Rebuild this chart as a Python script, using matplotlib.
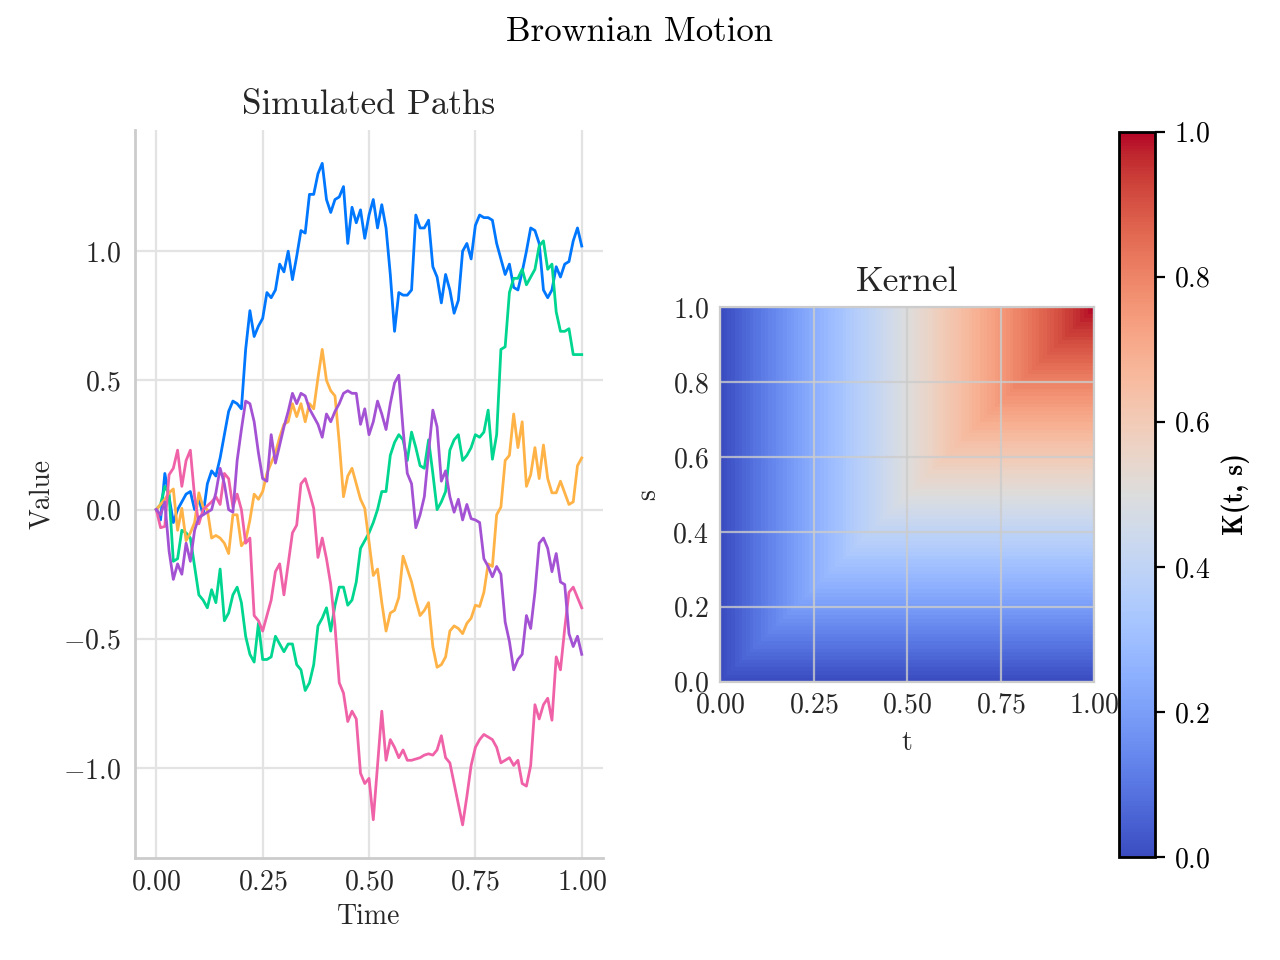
import numpy as np
import matplotlib.pyplot as plt

plt.rcParams['font.family'] = 'cmr10'
plt.rcParams['mathtext.fontset'] = 'cm'
plt.rcParams['axes.formatter.use_mathtext'] = True
plt.rcParams['axes.unicode_minus'] = True

# time grid, 100 steps
t = np.linspace(0, 1, 101)

# paths
path_blue = [0.00, -0.04, 0.14, 0.05, -0.05, 0.00, 0.03, 0.06, 0.07, 0.00,
             0.04, -0.02, 0.10, 0.15, 0.13, 0.20, 0.29, 0.38, 0.42, 0.41,
             0.39, 0.62, 0.77, 0.67, 0.71, 0.74, 0.84, 0.82, 0.85, 0.95,
             0.92, 1.00, 0.89, 0.98, 1.08, 1.07, 1.22, 1.22, 1.30, 1.34,
             1.20, 1.15, 1.20, 1.21, 1.25, 1.03, 1.17, 1.11, 1.16, 1.05,
             1.14, 1.20, 1.09, 1.18, 1.09, 0.91, 0.69, 0.84, 0.83, 0.83,
             0.85, 1.14, 1.09, 1.09, 1.12, 0.94, 0.90, 0.80, 0.91, 0.85,
             0.76, 0.81, 1.00, 1.03, 0.97, 1.10, 1.14, 1.13, 1.13, 1.12,
             1.03, 0.97, 0.91, 0.95, 0.86, 0.85, 0.92, 1.00, 1.09, 1.08,
             1.03, 0.85, 0.82, 0.85, 0.94, 0.90, 0.95, 0.96, 1.04, 1.09,
             1.02]
path_green = [0.00, 0.02, 0.09, 0.06, -0.20, -0.19, -0.08, -0.09, -0.11, -0.22,
              -0.33, -0.35, -0.38, -0.31, -0.36, -0.23, -0.43, -0.40, -0.33, -0.30,
              -0.36, -0.49, -0.56, -0.59, -0.44, -0.58, -0.58, -0.57, -0.49, -0.52,
              -0.55, -0.52, -0.52, -0.60, -0.62, -0.70, -0.67, -0.60, -0.45, -0.42,
              -0.38, -0.47, -0.37, -0.30, -0.30, -0.37, -0.35, -0.28, -0.15, -0.12,
              -0.09, -0.05, 0.00, 0.07, 0.07, 0.21, 0.26, 0.29, 0.27, 0.19,
              0.30, 0.24, 0.17, 0.16, 0.27, 0.14, 0.00, 0.03, 0.07, 0.23,
              0.27, 0.29, 0.19, 0.21, 0.24, 0.29, 0.28, 0.30, 0.385, 0.195,
              0.29, 0.62, 0.63, 0.84, 0.895, 0.895, 0.93, 0.87, 0.90, 0.93,
              1.02, 1.04, 0.93, 0.95, 0.765, 0.69, 0.69, 0.70, 0.60, 0.60,
              0.60]
path_orange = [0.00, 0.02, 0.04, 0.065, 0.08, -0.08, 0.005, -0.12, -0.09, -0.05,
               0.065, 0.01, 0.00, -0.11, -0.10, -0.11, -0.13, -0.17, -0.02, -0.02,
               -0.14, -0.12, -0.04, 0.06, 0.04, 0.07, 0.14, 0.18, 0.22, 0.28,
               0.33, 0.34, 0.41, 0.36, 0.41, 0.34, 0.41, 0.39, 0.51, 0.62,
               0.50, 0.46, 0.44, 0.26, 0.05, 0.13, 0.16, 0.10, 0.04, 0.005,
               -0.125, -0.255, -0.23, -0.36, -0.47, -0.40, -0.39, -0.34, -0.18, -0.23,
               -0.28, -0.35, -0.41, -0.39, -0.36, -0.53, -0.61, -0.60, -0.57, -0.47,
               -0.45, -0.46, -0.48, -0.44, -0.42, -0.37, -0.375, -0.32, -0.21, -0.22,
               -0.02, 0.01, 0.19, 0.21, 0.37, 0.24, 0.34, 0.09, 0.135, 0.24,
               0.12, 0.25, 0.12, 0.065, 0.065, 0.11, 0.065, 0.02, 0.03, 0.17,
               0.20]
path_pink = [0.00, -0.07, -0.065, 0.135, 0.16, 0.23, 0.09, 0.19, 0.23, 0.05,
             -0.055, 0.00, 0.015, 0.03, 0.05, 0.02, 0.14, 0.12, 0.01, 0.06,
             0.00, -0.13, -0.11, -0.41, -0.43, -0.47, -0.41, -0.35, -0.24, -0.21,
             -0.33, -0.21, -0.09, -0.06, 0.10, 0.12, 0.065, 0.005, -0.185, -0.11,
             -0.19, -0.29, -0.45, -0.67, -0.71, -0.82, -0.78, -0.81, -1.02, -1.06,
             -1.04, -1.20, -0.99, -0.78, -0.97, -0.89, -0.92, -0.96, -0.93, -0.97,
             -0.97, -0.965, -0.96, -0.95, -0.945, -0.95, -0.93, -0.875, -0.96, -0.98,
             -1.06, -1.14, -1.22, -1.11, -0.99, -0.92, -0.89, -0.87, -0.88, -0.89,
             -0.92, -0.98, -0.97, -0.96, -0.99, -0.97, -1.06, -1.07, -0.99, -0.755,
             -0.81, -0.755, -0.73, -0.815, -0.57, -0.62, -0.46, -0.32, -0.30, -0.34,
             -0.38]
path_purple = [0.00, -0.02, 0.03, -0.16, -0.27, -0.21, -0.25, -0.13, -0.20, -0.08,
               -0.03, -0.02, -0.01, 0.00, 0.065, 0.16, 0.10, 0.00, -0.01, 0.19,
               0.31, 0.42, 0.41, 0.34, 0.22, 0.12, 0.11, 0.29, 0.18, 0.25,
               0.32, 0.38, 0.45, 0.41, 0.45, 0.44, 0.39, 0.36, 0.33, 0.28,
               0.37, 0.34, 0.38, 0.41, 0.45, 0.46, 0.45, 0.45, 0.33, 0.39,
               0.29, 0.34, 0.42, 0.37, 0.31, 0.41, 0.49, 0.52, 0.31, 0.14,
               0.10, -0.07, -0.02, 0.05, 0.22, 0.385, 0.32, 0.11, 0.15, 0.05,
               -0.01, 0.04, -0.04, 0.02, -0.035, -0.04, -0.05, -0.19, -0.22, -0.26,
               -0.22, -0.25, -0.435, -0.51, -0.62, -0.58, -0.56, -0.41, -0.46, -0.32,
               -0.13, -0.11, -0.15, -0.24, -0.17, -0.28, -0.29, -0.48, -0.53, -0.49,
               -0.56]

paths = [path_blue, path_green, path_orange, path_pink, path_purple]
colors = ['#0077ff', '#00d68f', '#ffb347', '#f062a8', '#a452d4']

# covariance kernel of Brownian motion on the same grid
kernel = np.minimum.outer(t, t)

TXT = '#262626'

fig = plt.figure(figsize=(6.4, 4.8), dpi=200)

ax = fig.add_axes([0.1055, 0.1063, 0.3656, 0.758])
for y, c in zip(paths, colors):
    ax.plot(t, y, color=c, linewidth=1.0)
ax.set_xticks([0, 0.25, 0.5, 0.75, 1.0])
ax.set_yticks([-1.0, -0.5, 0.0, 0.5, 1.0])
ax.grid(color='#e3e3e3', linewidth=0.8)
for side in ['top', 'right']:
    ax.spines[side].set_visible(False)
for side in ['left', 'bottom']:
    ax.spines[side].set_color('#cccccc')
    ax.spines[side].set_linewidth(1.0)
ax.tick_params(axis='x', length=0, pad=4, labelsize=10, labelcolor=TXT)
ax.tick_params(axis='y', length=0, pad=5, labelsize=10, labelcolor=TXT)
ax.set_title('Simulated Paths', fontsize=12.6, color=TXT)
ax.set_xlabel('Time', fontsize=10, color=TXT, labelpad=3)
ax.set_ylabel('Value', fontsize=10, color=TXT, labelpad=3)

ax2 = fig.add_axes([0.5625, 0.2896, 0.2922, 0.3906])
im = ax2.imshow(kernel, origin='lower', extent=[0, 1, 0, 1],
                cmap='coolwarm', vmin=0, vmax=1)
ax2.set_xticks([0, 0.25, 0.5, 0.75, 1.0])
ax2.set_yticks([0, 0.2, 0.4, 0.6, 0.8, 1.0])
ax2.grid(color='#cccccc', linewidth=0.8, alpha=0.8)
for side in ax2.spines:
    ax2.spines[side].set_color('#cccccc')
ax2.tick_params(length=0, pad=4, labelsize=10, labelcolor=TXT)
ax2.set_title('Kernel', fontsize=12.8, color=TXT)
ax2.set_xlabel('t', fontsize=10, color=TXT)
ax2.set_ylabel('s', fontsize=10, color=TXT)

cax = fig.add_axes([0.874, 0.107, 0.028, 0.756])
cb = fig.colorbar(im, cax=cax)
cb.outline.set_edgecolor('black')
cb.outline.set_linewidth(1.0)
cax.tick_params(length=3.5, width=0.8, labelsize=10, color='black')
cb.set_label('K(t, s)', fontsize=10, family='cmb10')

fig.suptitle('Brownian Motion', fontsize=12.5, y=0.966, va='center')

fig.savefig('out.png', dpi=200)
